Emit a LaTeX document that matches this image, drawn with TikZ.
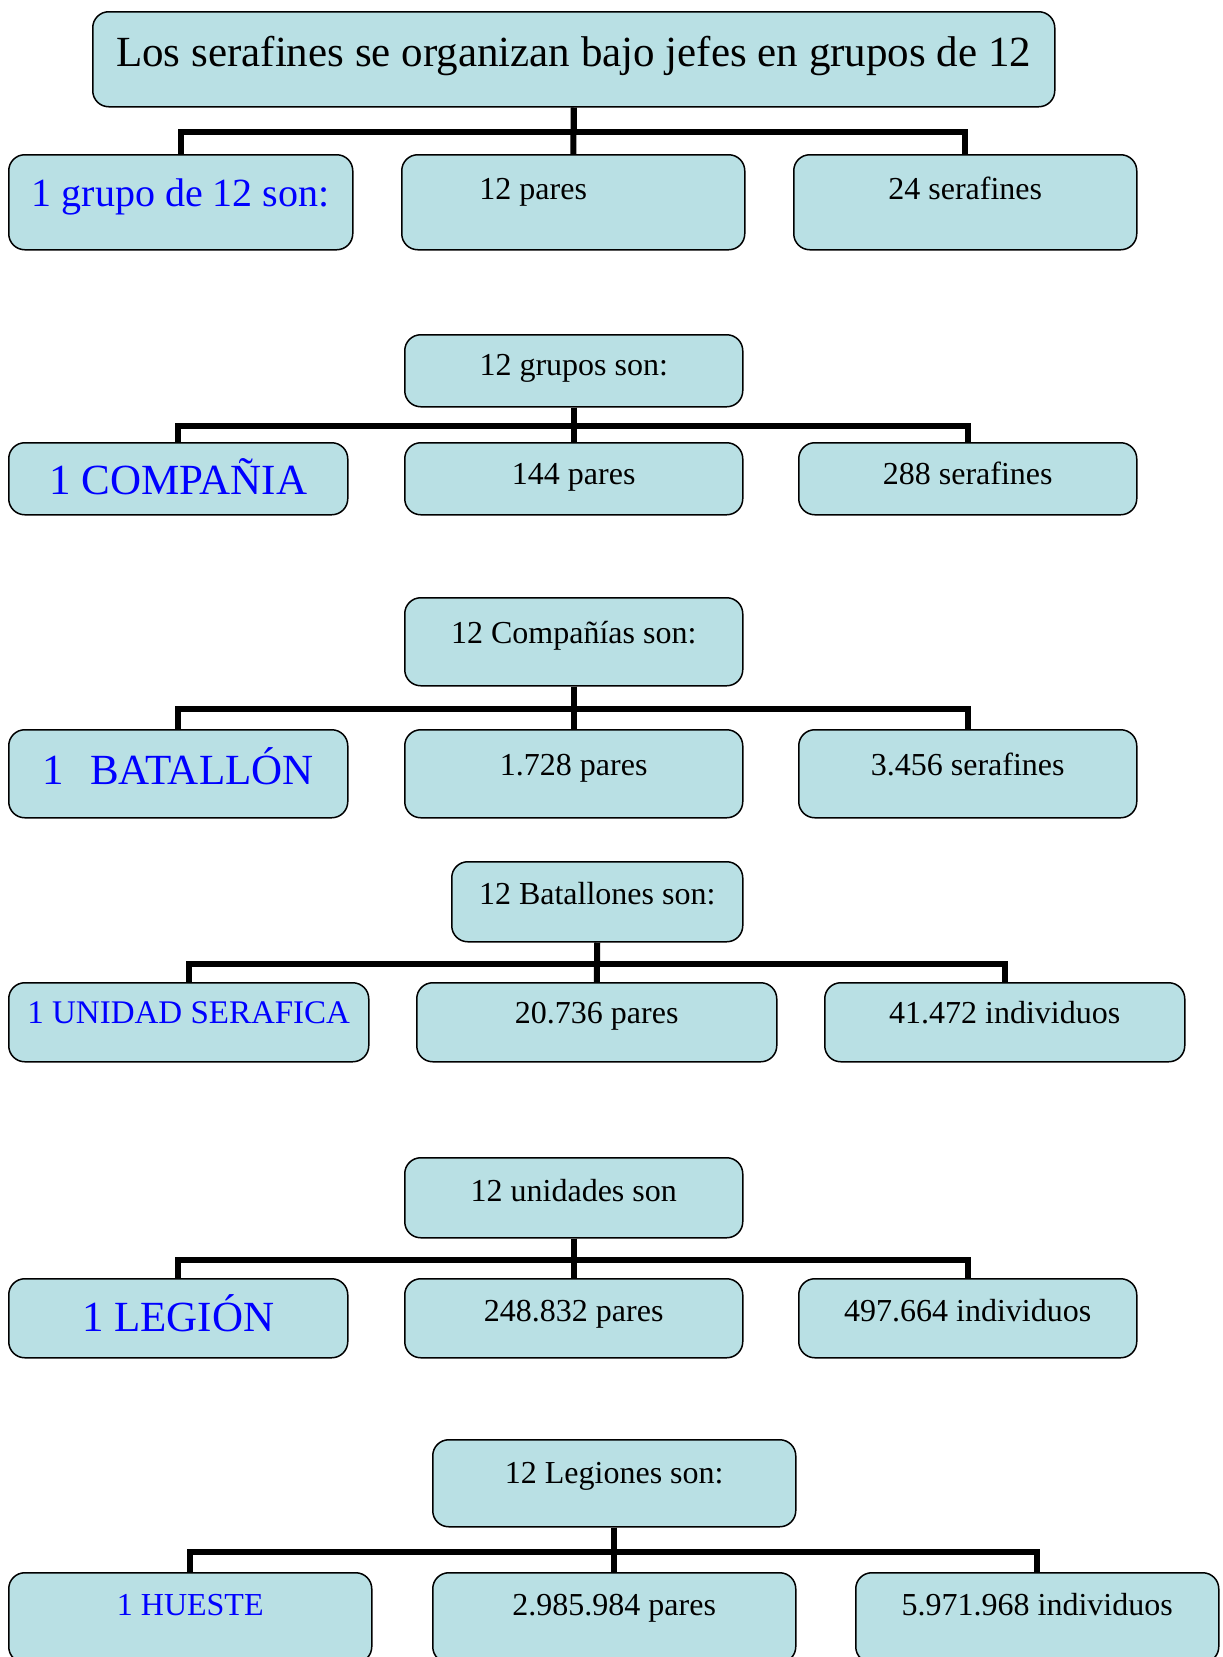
\documentclass[tikz,border=0pt]{standalone}
\usepackage{fontspec}
\setmainfont{Liberation Serif}
\usepackage{tikz}
\usepackage{xcolor}
\definecolor{celeste}{RGB}{185, 224, 228}
\definecolor{azul}{RGB}{0, 0, 255}

\begin{document}
\begin{tikzpicture}[x=1pt, y=-1pt,
      caja/.style={draw, fill=celeste, rounded corners=16pt, line width=1.5pt, anchor=north west,
        inner xsep=0pt, inner ysep=0pt, font=\fontsize{32}{38}\selectfont},
      grande/.style={text=azul, font=\fontsize{43}{50}\selectfont},
      conector/.style={line width=6pt}]
      \useasboundingbox (0, 0) rectangle (1223, 1657);

      \node[caja, minimum width=962pt, text height=55pt, text depth=40pt, font=\fontsize{43}{50}\selectfont]
        (titulo) at (92, 11) {Los serafines se organizan bajo jefes en grupos de 12};
      \node[caja, grande, minimum width=344pt, text height=52pt, text depth=43pt, font=\fontsize{40}{48}\selectfont]
        (grupo) at (8, 154) {1 grupo de 12 son:};
      \node[caja, minimum width=343pt, text height=45pt, text depth=50pt] (pares1) at (401, 154) {12 pares\hspace*{80pt}};
      \node[caja, minimum width=343pt, text height=45pt, text depth=50pt] (serafines1) at (793, 154) {24 serafines};

      \node[caja, minimum width=338pt, text height=41pt, text depth=31pt] (grupos) at (404, 334) {12 grupos son:};
      \node[caja, grande, minimum width=339pt, text height=52pt, text depth=20pt] (compania) at (8, 442) {1 COMPAÑIA};
      \node[caja, minimum width=338pt, text height=42pt, text depth=30pt] (pares2) at (404, 442) {144 pares};
      \node[caja, minimum width=338pt, text height=42pt, text depth=30pt] (serafines2) at (798, 442) {288 serafines};

      \node[caja, minimum width=338pt, text height=46pt, text depth=42pt] (companias) at (404, 597) {12 Compañías son:};
      \node[caja, grande, minimum width=339pt, text height=55pt, text depth=33pt] (batallon) at (8, 729) {1\hspace{0.6em}BATALLÓN};
      \node[caja, minimum width=338pt, text height=46pt, text depth=42pt] (pares3) at (404, 729) {1.728 pares};
      \node[caja, minimum width=338pt, text height=46pt, text depth=42pt] (serafines3) at (798, 729) {3.456 serafines};

      \node[caja, minimum width=291pt, text height=43pt, text depth=37pt] (batallones) at (451, 861) {12 Batallones son:};
      \node[caja, text=azul, minimum width=360pt, text height=41pt, text depth=38pt, font=\fontsize{33}{40}\selectfont]
        (unidad) at (8, 982) {1 UNIDAD SERAFICA};
      \node[caja, minimum width=360pt, text height=41pt, text depth=38pt] (pares4) at (416, 982) {20.736 pares};
      \node[caja, minimum width=360pt, text height=41pt, text depth=38pt] (individuos4) at (824, 982) {41.472 individuos};

      \node[caja, minimum width=338pt, text height=44pt, text depth=36pt] (unidades) at (404, 1157) {12 unidades son};
      \node[caja, grande, minimum width=339pt, text height=53pt, text depth=26pt] (legion) at (8, 1278) {1 LEGIÓN};
      \node[caja, minimum width=338pt, text height=43pt, text depth=36pt] (pares5) at (404, 1278) {248.832 pares};
      \node[caja, minimum width=338pt, text height=43pt, text depth=36pt] (individuos5) at (798, 1278) {497.664 individuos};

      \node[caja, minimum width=363pt, text height=44pt, text depth=43pt] (legiones) at (432, 1439) {12 Legiones son:};
      \node[caja, text=azul, minimum width=363pt, text height=43pt, text depth=47pt] (hueste) at (8, 1572) {1 HUESTE};
      \node[caja, minimum width=363pt, text height=43pt, text depth=47pt] (pares6) at (432, 1572) {2.985.984 pares};
      \node[caja, minimum width=363pt, text height=43pt, text depth=47pt] (individuos6) at (855, 1572) {5.971.968 individuos};

      \draw[conector] (titulo.south) -- ++(0, 24) -| (grupo.north);
      \draw[conector] (titulo.south) -- (pares1.north);
      \draw[conector] (titulo.south) -- ++(0, 24) -| (serafines1.north);

      \draw[conector] (grupos.south) -- ++(0, 18) -| (compania.north);
      \draw[conector] (grupos.south) -- (pares2.north);
      \draw[conector] (grupos.south) -- ++(0, 18) -| (serafines2.north);

      \draw[conector] (companias.south) -- ++(0, 22) -| (batallon.north);
      \draw[conector] (companias.south) -- (pares3.north);
      \draw[conector] (companias.south) -- ++(0, 22) -| (serafines3.north);

      \draw[conector] (batallones.south) -- ++(0, 21) -| (unidad.north);
      \draw[conector] (batallones.south) -- (pares4.north);
      \draw[conector] (batallones.south) -- ++(0, 21) -| (individuos4.north);

      \draw[conector] (unidades.south) -- ++(0, 21) -| (legion.north);
      \draw[conector] (unidades.south) -- (pares5.north);
      \draw[conector] (unidades.south) -- ++(0, 21) -| (individuos5.north);

      \draw[conector] (legiones.south) -- ++(0, 24) -| (hueste.north);
      \draw[conector] (legiones.south) -- (pares6.north);
      \draw[conector] (legiones.south) -- ++(0, 24) -| (individuos6.north);
    \end{tikzpicture}
\end{document}
